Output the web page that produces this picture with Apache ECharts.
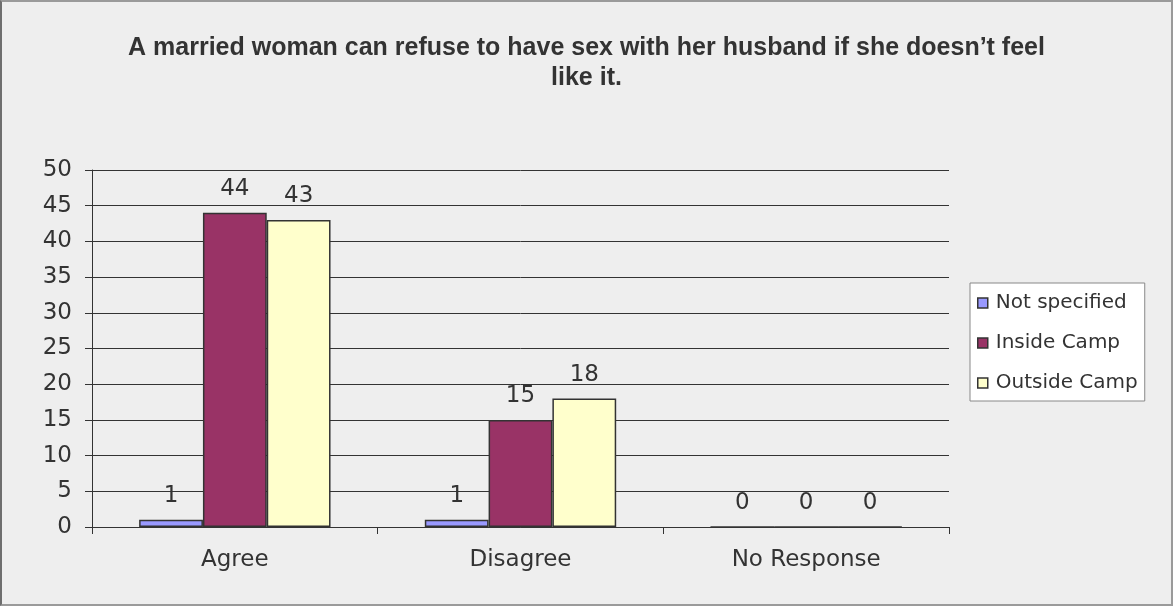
<!DOCTYPE html>
<html>
<head>
<meta charset="utf-8">
<script src="https://cdn.jsdelivr.net/npm/echarts@6/dist/echarts.min.js"></script>
<style>
  html, body { margin: 0; padding: 0; background: #eeeeee; }
  #chart { width: 1173px; height: 606px; box-sizing: border-box; border: 2px solid #9a9a9a; border-left-color: #6e6e6e; }
</style>
</head>
<body>
<div id="chart"></div>
<script>
// Survey responses by camp location
const categories = ['Agree', 'Disagree', 'No Response'];
const notSpecified = [1, 1, 0];
const insideCamp = [44, 15, 0];
const outsideCamp = [43, 18, 0];
const seriesNames = ['Not specified', 'Inside Camp', 'Outside Camp'];
const seriesColors = ['#9999ff', '#993366', '#ffffcc'];
const titleText = 'A married woman can refuse to have sex with her husband if she doesn\u2019t feel\nlike it.';

const baseFont = 'DejaVu Sans, Verdana, sans-serif';
const chart = echarts.init(document.getElementById('chart'));

const barSeries = [notSpecified, insideCamp, outsideCamp].map((vals, i) => ({
  name: seriesNames[i],
  type: 'bar',
  data: vals,
  barGap: '0%',
  barCategoryGap: '33%',
  itemStyle: { color: seriesColors[i], borderColor: '#333333', borderWidth: 1.5 },
  label: {
    show: true,
    position: 'top',
    distance: 12,
    fontFamily: baseFont,
    fontSize: 23,
    color: '#333333'
  }
}));

chart.setOption({
  backgroundColor: '#eeeeee',
  animation: false,
  title: {
    text: titleText,
    left: 'center',
    top: 26,
    textStyle: {
      fontFamily: 'Liberation Sans, Arial, sans-serif',
      fontWeight: 'bold',
      fontSize: 25,
      color: '#333333',
      lineHeight: 30
    }
  },
  legend: {
    orient: 'vertical',
    left: 968,
    top: 281,
    padding: [10, 7, 8, 7],
    itemGap: 20,
    itemWidth: 10,
    itemHeight: 10,
    backgroundColor: '#ffffff',
    borderColor: '#888888',
    borderWidth: 1,
    icon: 'rect',
    itemStyle: { borderColor: '#333333', borderWidth: 1.5 },
    textStyle: {
      fontFamily: baseFont,
      fontSize: 20,
      color: '#333333',
      padding: [0, 0, 0, 3]
    },
    data: seriesNames
  },
  grid: { left: 90, right: 222, top: 168, bottom: 77 },
  xAxis: {
    type: 'category',
    data: categories,
    axisLine: { lineStyle: { color: '#333333', width: 1 } },
    axisTick: { show: true, length: 7, alignWithLabel: false, lineStyle: { color: '#333333' } },
    axisLabel: {
      margin: 22,
      fontFamily: baseFont,
      fontSize: 23,
      color: '#333333'
    }
  },
  yAxis: {
    type: 'value',
    min: 0,
    max: 50,
    interval: 5,
    axisLine: { show: true, lineStyle: { color: '#333333', width: 1 } },
    axisTick: { show: true, length: 7, lineStyle: { color: '#333333' } },
    axisLabel: {
      margin: 20,
      fontFamily: baseFont,
      fontSize: 23,
      color: '#333333'
    },
    splitLine: { show: true, lineStyle: { color: '#333333', width: 1 } }
  },
  series: barSeries
});
</script>
</body>
</html>
